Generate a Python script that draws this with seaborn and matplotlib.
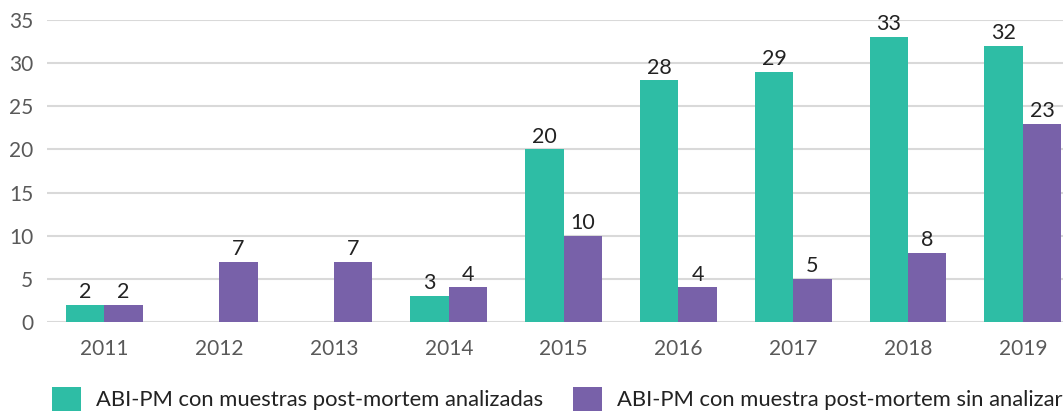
import numpy as np
import pandas as pd
import matplotlib
matplotlib.use("Agg")
import matplotlib.pyplot as plt
from matplotlib.patches import Patch
import seaborn as sns

years = ["2011", "2012", "2013", "2014", "2015", "2016", "2017", "2018", "2019"]
analizadas = [2, 0, 0, 3, 20, 28, 29, 33, 32]
sin_analizar = [2, 7, 7, 4, 10, 4, 5, 8, 23]
series_names = [
    "ABI-PM con muestras post-mortem analizadas",
    "ABI-PM con muestra post-mortem sin analizar",
]
colors = ["#2EBDA5", "#7861A9"]
yticks = [0, 5, 10, 15, 20, 25, 30, 35]


def to_long():
    df = pd.DataFrame({"Año": years, series_names[0]: analizadas, series_names[1]: sin_analizar})
    return df.melt(id_vars="Año", var_name="Serie", value_name="Casos")


def main():
    sns.set_style("white")
    plt.rcParams["font.family"] = ["Lato", "DejaVu Sans"]
    df = to_long()

    fig = plt.figure(figsize=(10.63, 4.12), dpi=100)
    ax = fig.add_axes([47 / 1063, 1 - 322 / 412, 1 - 47 / 1063, (322 - 20) / 412])

    sns.barplot(
        data=df, x="Año", y="Casos", hue="Serie", hue_order=series_names,
        palette=colors, width=0.67, saturation=1, linewidth=0, ax=ax, legend=False,
    )

    for cont, vals in zip(ax.containers, [analizadas, sin_analizar]):
        labels = [str(v) if v else "" for v in vals]
        ax.bar_label(cont, labels=labels, padding=2, fontsize=15.5, color="#222222")

    ax.set_ylim(0, 35)
    ax.set_xlim(-0.5, 8.35)
    ax.set_yticks(yticks)
    ax.yaxis.grid(True, color="#d9d9d9", linewidth=1.5)
    ax.set_axisbelow(True)
    for s in ax.spines.values():
        s.set_visible(False)
    ax.tick_params(axis="y", length=0, pad=10, labelsize=15, labelcolor="#595959")
    ax.tick_params(axis="x", length=0, pad=12, labelsize=15, labelcolor="#595959")
    ax.set_xlabel("")
    ax.set_ylabel("")

    handles = [Patch(facecolor=c, edgecolor="none") for c in colors]
    fig.legend(
        handles, series_names, loc="center left",
        bbox_to_anchor=(52 / 1063, 1 - 399 / 412), ncol=2, frameon=False,
        fontsize=15.8, handlelength=1.3, handleheight=1.3, handletextpad=0.72,
        columnspacing=1.35, borderpad=0, borderaxespad=0, labelcolor="#222222",
    )

    fig.savefig("out.png", dpi=100)


if __name__ == "__main__":
    main()
